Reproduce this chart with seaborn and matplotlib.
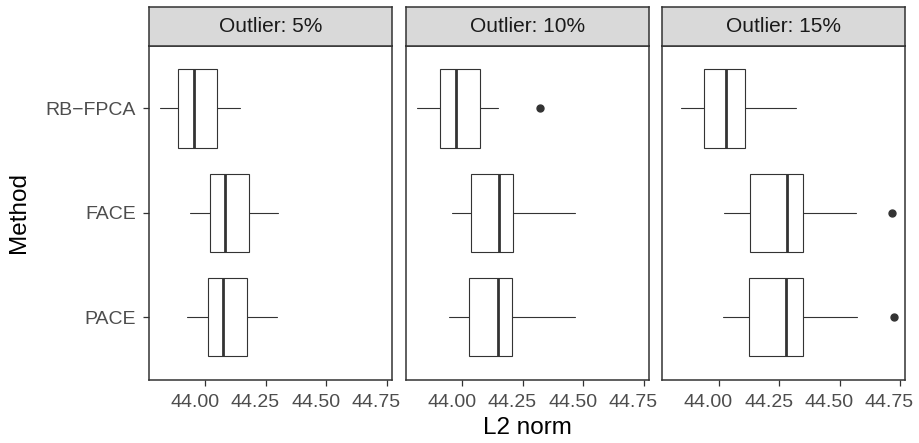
import matplotlib
matplotlib.use("Agg")
import matplotlib.pyplot as plt
from matplotlib.transforms import ScaledTranslation
import seaborn as sns
import numpy as np

# Summary statistics of the L2 norm for each method and outlier rate
facets = ["Outlier: 5%", "Outlier: 10%", "Outlier: 15%"]
methods = ["RB\u2212FPCA", "FACE", "PACE"]

# one row per facet, entries follow the methods order
whislo = [[43.812, 43.935, 43.925],
          [43.812, 43.955, 43.946],
          [43.844, 44.022, 44.017]]
q1 = [[43.888, 44.019, 44.012],
      [43.908, 44.035, 44.028],
      [43.939, 44.129, 44.126]]
med = [[43.952, 44.080, 44.071],
       [43.975, 44.151, 44.146],
       [44.028, 44.283, 44.280]]
q3 = [[44.049, 44.180, 44.173],
      [44.074, 44.211, 44.205],
      [44.110, 44.349, 44.349]]
whishi = [[44.143, 44.299, 44.295],
          [44.147, 44.465, 44.465],
          [44.318, 44.567, 44.570]]
outliers = [[[], [], []],
            [[44.320], [], []],
            [[], [44.717], [44.726]]]

x_ticks = [44.00, 44.25, 44.50, 44.75]
x_ticklabels = ["44.00", "44.25", "44.50", "44.75"]

sns.set_theme(style="white")
plt.rcParams["font.family"] = ["Liberation Sans", "DejaVu Sans"]

W, H = 920, 443
fig = plt.figure(figsize=(W / 100, H / 100), dpi=100)

line_col = "#333333"
tick_col = "#4D4D4D"

# shared x range with 5% expansion around all values
all_vals = np.concatenate([np.ravel(whislo), np.ravel(whishi),
                           [v for f in outliers for m in f for v in m]])
lo, hi = all_vals.min(), all_vals.max()
pad = 0.05 * (hi - lo)
xlim = (lo - pad, hi + pad)

panel_lefts = [149, 406, 662.3]
panel_w = 243
panel_top, panel_bot = 45.7, 380
strip_top = 6.7

label_shift = ScaledTranslation(-10.5 / 100, 0, fig.dpi_scale_trans)

for k, title in enumerate(facets):
    left = panel_lefts[k] / W
    ax = fig.add_axes([left, (H - panel_bot) / H, panel_w / W,
                       (panel_bot - panel_top) / H])
    stats = []
    positions = []
    for j, m in enumerate(methods):
        stats.append(dict(whislo=whislo[k][j], q1=q1[k][j], med=med[k][j],
                          q3=q3[k][j], whishi=whishi[k][j],
                          fliers=outliers[k][j], label=m))
        positions.append(len(methods) - j)
    ax.bxp(stats, positions=positions, vert=False, widths=0.75,
           showcaps=False, patch_artist=True,
           boxprops=dict(facecolor="white", edgecolor=line_col, linewidth=0.8),
           whiskerprops=dict(color=line_col, linewidth=0.8),
           medianprops=dict(color=line_col, linewidth=2.0),
           flierprops=dict(marker="o", markersize=5, markerfacecolor=line_col,
                           markeredgecolor=line_col))
    ax.set_xlim(*xlim)
    ax.set_ylim(0.4, len(methods) + 0.6)
    ax.set_xticks(x_ticks)
    ax.set_xticklabels(x_ticklabels)
    ax.set_yticks(positions)
    if k == 0:
        ax.set_yticklabels(methods)
        ax.tick_params(axis="y", left=True, length=4.5, width=0.9,
                       color=line_col, labelsize=14, labelcolor=tick_col,
                       pad=4.8)
    else:
        ax.set_yticklabels([])
        ax.tick_params(axis="y", left=False, length=0)
    ax.tick_params(axis="x", bottom=True, length=4.5, width=0.9,
                   color=line_col, labelsize=14, labelcolor=tick_col, pad=5.5)
    for lab in ax.get_xticklabels():
        lab.set_transform(lab.get_transform() + label_shift)
    ax.grid(False)
    ax.set_facecolor("white")
    for sp in ax.spines.values():
        sp.set_visible(True)
        sp.set_color(line_col)
        sp.set_linewidth(1.1)

    # facet strip
    sax = fig.add_axes([left, (H - panel_top) / H, panel_w / W,
                        (panel_top - strip_top) / H])
    sax.set_facecolor("#D9D9D9")
    sax.set_xticks([])
    sax.set_yticks([])
    for sp in sax.spines.values():
        sp.set_visible(True)
        sp.set_color(line_col)
        sp.set_linewidth(1.1)
    sax.text(0.5, 0.5, title, ha="center", va="center", fontsize=15,
             color="#1A1A1A", transform=sax.transAxes)

fig.text((149 + 905) / 2 / W, (H - 428) / H, "L2 norm", ha="center",
         va="center", fontsize=17.5, color="black")
fig.text(19 / W, (H - 213) / H, "Method", ha="center", va="center",
         rotation=90, fontsize=17.5, color="black")

fig.savefig("out.png", dpi=100, facecolor="white")
